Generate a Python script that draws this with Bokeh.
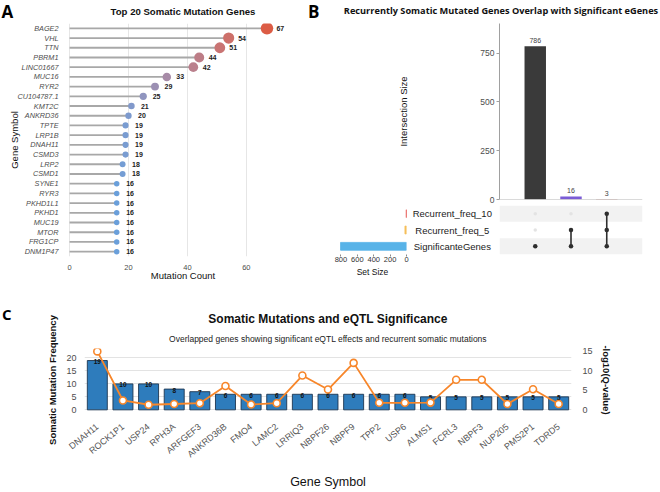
import math
from bokeh.plotting import figure
from bokeh.layouts import column, row
from bokeh.models import (ColumnDataSource, FactorRange, Range1d, LinearAxis, Span, FixedTicker, Title)
from bokeh.core.properties import value
from bokeh.embed import file_html
from bokeh.resources import INLINE

# ---------------- data ----------------
# Panel A
a_genes = ["BAGE2", "VHL", "TTN", "PBRM1", "LINC01667", "MUC16", "RYR2", "CU104787.1",
           "KMT2C", "ANKRD36", "TPTE", "LRP1B", "DNAH11", "CSMD3", "LRP2", "CSMD1",
           "SYNE1", "RYR3", "PKHD1L1", "PKHD1", "MUC19", "MTOR", "FRG1CP", "DNM1P47"]
a_counts = [67, 54, 51, 44, 42, 33, 29, 25, 21, 20, 19, 19, 19, 19, 18, 18,
            16, 16, 16, 16, 16, 16, 16, 16]
a_xticks = [0, 20, 40, 60]

# Panel B (UpSet)
b_sets = ["Recurrent_freq_10", "Recurrent_freq_5", "SignificanteGenes"]
b_set_sizes = [3, 19, 805]
b_set_colors = ["#e0302a", "#f5bf5a", "#58b3e8"]
b_inter_sizes = [786, 16, 3]
b_inter_members = [["SignificanteGenes"],
                   ["Recurrent_freq_5", "SignificanteGenes"],
                   ["Recurrent_freq_10", "Recurrent_freq_5", "SignificanteGenes"]]
b_inter_colors = ["#3a3a3a", "#7b5cd6", "#b8604e"]
b_yticks = [0, 250, 500, 750]
b_set_ticks = [0, 200, 400, 600, 800]

# Panel C
c_genes = ["DNAH11", "ROCK1P1", "USP24", "RPH3A", "ARFGEF3", "ANKRD36B", "FMO4", "LAMC2",
           "LRRIQ3", "NBPF26", "NBPF9", "TPP2", "USP6", "ALMS1", "FCRL3", "NBPF3",
           "NUP205", "PMS2P1", "TDRD5"]
c_freq = [19, 10, 10, 8, 7, 6, 6, 6, 6, 6, 6, 6, 6, 5, 5, 5, 5, 5, 5]
c_logq = [15.0, 2.4, 1.3, 1.5, 1.7, 6.1, 1.35, 1.7, 8.8, 5.2, 12.05, 1.8, 1.8, 1.85,
          7.7, 7.7, 1.5, 5.3, 1.5]
c_left_ticks = [0, 5, 10, 15, 20]
c_right_ticks = [0, 5, 10, 15]

# headings
title_a = "Top 20 Somatic Mutation Genes"
title_b = "Recurrently Somatic Mutated Genes Overlap with Significant eGenes"
title_c = "Somatic Mutations and eQTL Significance"
subtitle_c = "Overlapped genes showing significant eQTL effects and recurrent somatic mutations"

SANS = "Liberation Sans"
BOLDF = "Open Sans"


# ---------------- helpers: colour scale (Lab interpolation) ----------------
def _hex_to_lab(h):
    r, g, b = [int(h[i:i + 2], 16) / 255 for i in (1, 3, 5)]

    def lin(c):
        return c / 12.92 if c <= 0.04045 else ((c + 0.055) / 1.055) ** 2.4
    r, g, b = lin(r), lin(g), lin(b)
    X = (0.4124 * r + 0.3576 * g + 0.1805 * b) / 0.95047
    Y = (0.2126 * r + 0.7152 * g + 0.0722 * b)
    Z = (0.0193 * r + 0.1192 * g + 0.9505 * b) / 1.08883

    def f(t):
        return t ** (1 / 3) if t > 0.008856 else 7.787 * t + 16 / 116
    fx, fy, fz = f(X), f(Y), f(Z)
    return 116 * fy - 16, 500 * (fx - fy), 200 * (fy - fz)


def _lab_to_hex(L, a, b):
    fy = (L + 16) / 116
    fx = fy + a / 500
    fz = fy - b / 200

    def finv(t):
        return t ** 3 if t ** 3 > 0.008856 else (t - 16 / 116) / 7.787
    X, Y, Z = 0.95047 * finv(fx), finv(fy), 1.08883 * finv(fz)
    r = 3.2406 * X - 1.5372 * Y - 0.4986 * Z
    g = -0.9689 * X + 1.8758 * Y + 0.0415 * Z
    bb = 0.0557 * X - 0.2040 * Y + 1.0570 * Z

    def gam(c):
        c = max(0.0, min(1.0, c))
        return 12.92 * c if c <= 0.0031308 else 1.055 * c ** (1 / 2.4) - 0.055
    return "#%02x%02x%02x" % tuple(int(round(gam(c) * 255)) for c in (r, g, bb))


LOW_COL, HIGH_COL = "#6a9fda", "#dc5c45"
lo_lab, hi_lab = _hex_to_lab(LOW_COL), _hex_to_lab(HIGH_COL)
cmin, cmax = min(a_counts), max(a_counts)
D_LO, D_HI = 5.5, 12.5


def col_scale(v):
    t = (v - cmin) / (cmax - cmin)
    return _lab_to_hex(*[lo_lab[i] + t * (hi_lab[i] - lo_lab[i]) for i in range(3)])


def size_scale(v):
    t = (v - cmin) / (cmax - cmin)
    return math.sqrt(D_LO ** 2 + t * (D_HI ** 2 - D_LO ** 2))


def clean(p):
    p.outline_line_color = None
    p.background_fill_color = None
    p.border_fill_color = None
    p.xgrid.grid_line_color = None
    p.ygrid.grid_line_color = None


def strip(width, height):
    """A blank figure used as a heading band (titles, panel letters)."""
    s = figure(width=width, height=height, x_range=Range1d(0, width), y_range=Range1d(height, 0),
               output_backend="svg", toolbar_location=None, x_axis_location=None,
               y_axis_location=None, min_border=0)
    clean(s)
    return s


def head(s, x, y, txt, size, font=SANS, style="bold", align="center", color="#111111"):
    s.text(x=[x], y=[y], text=[txt], text_align=align, text_baseline="middle",
           text_font=value(font), text_font_size=size, text_font_style=style, text_color=color)


# ---------------- top heading band ----------------
TOP_H = 23
sTop = strip(660, TOP_H)
head(sTop, 1, 11.2, "A", "17px", font=BOLDF, align="left", color="#000000")
head(sTop, 182.5, 10.7, title_a, "9.6px")
head(sTop, 307.5, 11.0, "B", "17px", font=BOLDF, align="left", color="#000000")
head(sTop, 500.5, 9.6, title_b, "9.2px", font=BOLDF)

# ---------------- Panel A ----------------
srcA = ColumnDataSource(dict(gene=a_genes, count=a_counts,
                             color=[col_scale(v) for v in a_counts],
                             size=[size_scale(v) for v in a_counts],
                             label=[str(v) for v in a_counts]))
pA = figure(width=330, height=290 - TOP_H, x_range=Range1d(-0.7, 77.7),
            y_range=FactorRange(factors=a_genes[::-1]),
            output_backend="svg", toolbar_location=None,
            min_border_left=67, min_border_right=32, min_border_top=0, min_border_bottom=34)
clean(pA)
pA.segment(x0=0, y0="gene", x1="count", y1="gene", source=srcA,
           line_color="#a8a8a8", line_width=1.8)
pA.scatter(x="count", y="gene", size="size", fill_color="color", line_color=None, source=srcA)
pA.text(x="count", y="gene", text="label", source=srcA, x_offset=9.5,
        text_align="left", text_baseline="middle", text_font=value(SANS),
        text_font_size="7px", text_font_style="bold", text_color="#222222")
pA.xaxis.ticker = FixedTicker(ticks=a_xticks)
pA.xgrid.ticker = FixedTicker(ticks=a_xticks)
pA.xgrid.grid_line_color = "#e6e6e6"
for ax in (pA.xaxis[0], pA.yaxis[0]):
    ax.axis_line_color = None
    ax.major_tick_line_color = None
    ax.minor_tick_line_color = None
    ax.major_label_text_font = SANS
    ax.major_label_text_color = "#4d4d4d"
    ax.major_label_text_font_size = "7.5px"
    ax.axis_label_text_font = SANS
    ax.axis_label_text_font_style = "normal"
    ax.axis_label_text_font_size = "9.5px"
    ax.axis_label_text_color = "#111111"
pA.yaxis.major_label_text_font_size = "7.3px"
pA.yaxis.major_label_text_font_style = "italic"
pA.yaxis.major_label_standoff = 3
pA.yaxis.axis_label = "Gene Symbol"
pA.yaxis.axis_label_standoff = -5
pA.xaxis.major_label_standoff = 2
pA.xaxis.axis_label = "Mutation Count"
pA.xaxis.axis_label_standoff = -3

# ---------------- Panel B : intersection bars ----------------
b_x = [i + 1 for i in range(len(b_inter_sizes))]
srcBi = ColumnDataSource(dict(x=b_x, top=b_inter_sizes, color=b_inter_colors,
                              label=[str(v) for v in b_inter_sizes]))
BT_H = 205 - TOP_H
pBt = figure(width=330, height=BT_H, x_range=Range1d(0, 4), y_range=Range1d(0, 902),
             output_backend="svg", toolbar_location=None, x_axis_location=None,
             min_border_left=169, min_border_right=18, min_border_top=0, min_border_bottom=6)
clean(pBt)
pBt.vbar(x="x", top="top", width=0.6, fill_color="color", line_color=None, source=srcBi)
pBt.text(x="x", y="top", text="label", source=srcBi, y_offset=-3, text_align="center",
         text_baseline="bottom", text_font=value(SANS), text_font_size="7px",
         text_color="#444444")
pBt.add_layout(Span(location=0, dimension="width", line_color="#b5b5b5", line_width=1))
yax = pBt.yaxis[0]
yax.ticker = FixedTicker(ticks=b_yticks)
yax.axis_line_color = "#a0a0a0"
yax.major_tick_line_color = "#a0a0a0"
yax.major_tick_out = 3
yax.major_tick_in = 0
yax.minor_tick_line_color = None
yax.major_label_standoff = 2
yax.major_label_text_font = SANS
yax.major_label_text_font_size = "8.5px"
yax.major_label_text_color = "#4d4d4d"
yax.axis_label = "Intersection Size"
yax.axis_label_text_font = SANS
yax.axis_label_text_font_style = "normal"
yax.axis_label_text_font_size = "9.5px"
yax.axis_label_text_color = "#111111"
yax.axis_label_standoff = 68

# ---------------- Panel B : matrix ----------------
M_H = 290 - 205
row_factors = b_sets[::-1]
pBm = figure(width=161, height=M_H, x_range=Range1d(0, 4), y_range=FactorRange(factors=row_factors),
             output_backend="svg", toolbar_location=None, x_axis_location=None,
             y_axis_location=None, min_border_left=0, min_border_right=18,
             min_border_top=0, min_border_bottom=M_H - 49)
clean(pBm)
shade = b_sets[::2]
pBm.hbar(y=shade, left=0, right=4, height=1, fill_color="#f2f2f2", line_color=None)
dx, dy, dcol, dsz = [], [], [], []
for i, mem in enumerate(b_inter_members):
    for s in b_sets:
        dx.append(b_x[i])
        dy.append(s)
        on = s in mem
        dcol.append("#2e2e2e" if on else "#e3e3e3")
        dsz.append(4.5 if on else 3.5)
sx, sy0, sy1 = [], [], []
for i, mem in enumerate(b_inter_members):
    idx = sorted(b_sets.index(m) for m in mem)
    if len(idx) > 1:
        sx.append(b_x[i])
        sy0.append(b_sets[idx[0]])
        sy1.append(b_sets[idx[-1]])
pBm.segment(x0=sx, y0=sy0, x1=sx, y1=sy1, line_color="#2e2e2e", line_width=1.6)
pBm.scatter(x=dx, y=dy, size=dsz, fill_color=dcol, line_color=None)

# ---------------- Panel B : set labels ----------------
LABEL_X = 0.47
pBl = figure(width=89, height=M_H, x_range=Range1d(0, 1), y_range=FactorRange(factors=row_factors),
             output_backend="svg", toolbar_location=None, x_axis_location=None,
             y_axis_location=None, min_border_left=0, min_border_right=0,
             min_border_top=0, min_border_bottom=M_H - 49)
clean(pBl)
pBl.text(x=[LABEL_X] * len(b_sets), y=b_sets, text=b_sets, text_align="center",
         text_baseline="middle", text_font=value(SANS), text_font_size="9.5px",
         text_color="#222222")

# ---------------- Panel B : set sizes ----------------
pBs = figure(width=80, height=M_H, x_range=Range1d(830, 0), y_range=FactorRange(factors=row_factors),
             output_backend="svg", toolbar_location=None, y_axis_location=None,
             min_border_left=8, min_border_right=4, min_border_top=0, min_border_bottom=M_H - 49)
clean(pBs)
pBs.hbar(y=b_sets, left=0, right=b_set_sizes, height=0.48, fill_color=b_set_colors,
         line_color=b_set_colors, line_width=0.8)
xs = pBs.xaxis[0]
xs.ticker = FixedTicker(ticks=b_set_ticks)
xs.axis_line_color = None
xs.major_tick_line_color = "#8a8a8a"
xs.major_tick_out = 2
xs.major_tick_in = 0
xs.minor_tick_line_color = None
xs.major_label_standoff = 0
xs.major_label_text_font = SANS
xs.major_label_text_font_size = "7.5px"
xs.major_label_text_color = "#333333"
xs.axis_label = "Set Size"
xs.axis_label_text_font = SANS
xs.axis_label_text_font_style = "normal"
xs.axis_label_text_font_size = "8.5px"
xs.axis_label_text_color = "#111111"
xs.axis_label_standoff = 2

# ---------------- Panel C letter band ----------------
C_W, C_H = 20, 202
sC = strip(C_W, C_H)
head(sC, 1.5, 23.5, "C", "15px", font=BOLDF, align="left", color="#000000")

# ---------------- Panel C ----------------
srcC = ColumnDataSource(dict(gene=c_genes, freq=c_freq, q=c_logq,
                             label=[str(v) for v in c_freq]))
pC = figure(width=660 - C_W, height=C_H, x_range=FactorRange(factors=c_genes),
            y_range=Range1d(-0.64, 23.64), title=None,
            output_backend="svg", toolbar_location=None,
            min_border_left=84 - C_W, min_border_right=89, min_border_top=58, min_border_bottom=68)
clean(pC)
pC.add_layout(Title(text=subtitle_c, align="center", text_font=SANS, text_font_size="8.5px",
                    text_font_style="normal", text_color="#222222", standoff=9), "above")
pC.add_layout(Title(text=title_c, align="center", text_font=SANS, text_font_size="12px",
                    text_font_style="bold", text_color="#111111", standoff=4), "above")
pC.extra_y_ranges = {"q": Range1d(-0.43, 15.74)}
pC.ygrid.grid_line_color = "#e3e3e3"
pC.ygrid.ticker = FixedTicker(ticks=c_left_ticks)
pC.vbar(x="gene", top="freq", width=0.78, fill_color="#2e7cbc", line_color="#1d3550",
        line_width=0.9, source=srcC)
pC.text(x="gene", y="freq", text="label", source=srcC, y_offset=1, text_align="center",
        text_baseline="middle", text_font=value(SANS), text_font_size="6.5px",
        text_font_style="bold", text_color="#111111")
pC.line(x="gene", y="q", y_range_name="q", source=srcC, line_color="#f7862a", line_width=1.8)
pC.scatter(x="gene", y="q", y_range_name="q", source=srcC, size=7, fill_color="white",
           line_color="#f7862a", line_width=1.6)

lax = pC.yaxis[0]
lax.ticker = FixedTicker(ticks=c_left_ticks)
lax.axis_label = "Somatic Mutation Frequency"
rax = LinearAxis(y_range_name="q", ticker=FixedTicker(ticks=c_right_ticks),
                 axis_label="-log10(Q-value)")
pC.add_layout(rax, "right")
for ax in (lax, rax):
    ax.axis_line_color = None
    ax.major_tick_line_color = None
    ax.minor_tick_line_color = None
    ax.major_label_text_font = SANS
    ax.major_label_text_font_size = "9px"
    ax.major_label_text_color = "#4d4d4d"
    ax.axis_label_text_font = SANS
    ax.axis_label_text_font_size = "9.5px"
    ax.axis_label_text_font_style = "bold"
    ax.axis_label_text_color = "#111111"
lax.major_label_standoff = 2
lax.axis_label_standoff = 5
rax.major_label_standoff = 5
rax.axis_label_standoff = 5

xax = pC.xaxis[0]
xax.axis_line_color = None
xax.major_tick_line_color = None
xax.minor_tick_line_color = None
xax.major_label_orientation = 0.68
xax.major_label_standoff = 8
xax.major_label_text_font = SANS
xax.major_label_text_font_size = "9px"
xax.major_label_text_color = "#555555"
xax.axis_label = "Gene Symbol"
xax.axis_label_text_font = SANS
xax.axis_label_text_font_size = "12.5px"
xax.axis_label_text_font_style = "normal"
xax.axis_label_text_color = "#111111"
xax.axis_label_standoff = 9

layout = column(row(sTop),
                row(pA, column(pBt, row(pBs, pBl, pBm))),
                row(column(sC), pC))
open("out.html", "w").write(file_html(layout, INLINE))
